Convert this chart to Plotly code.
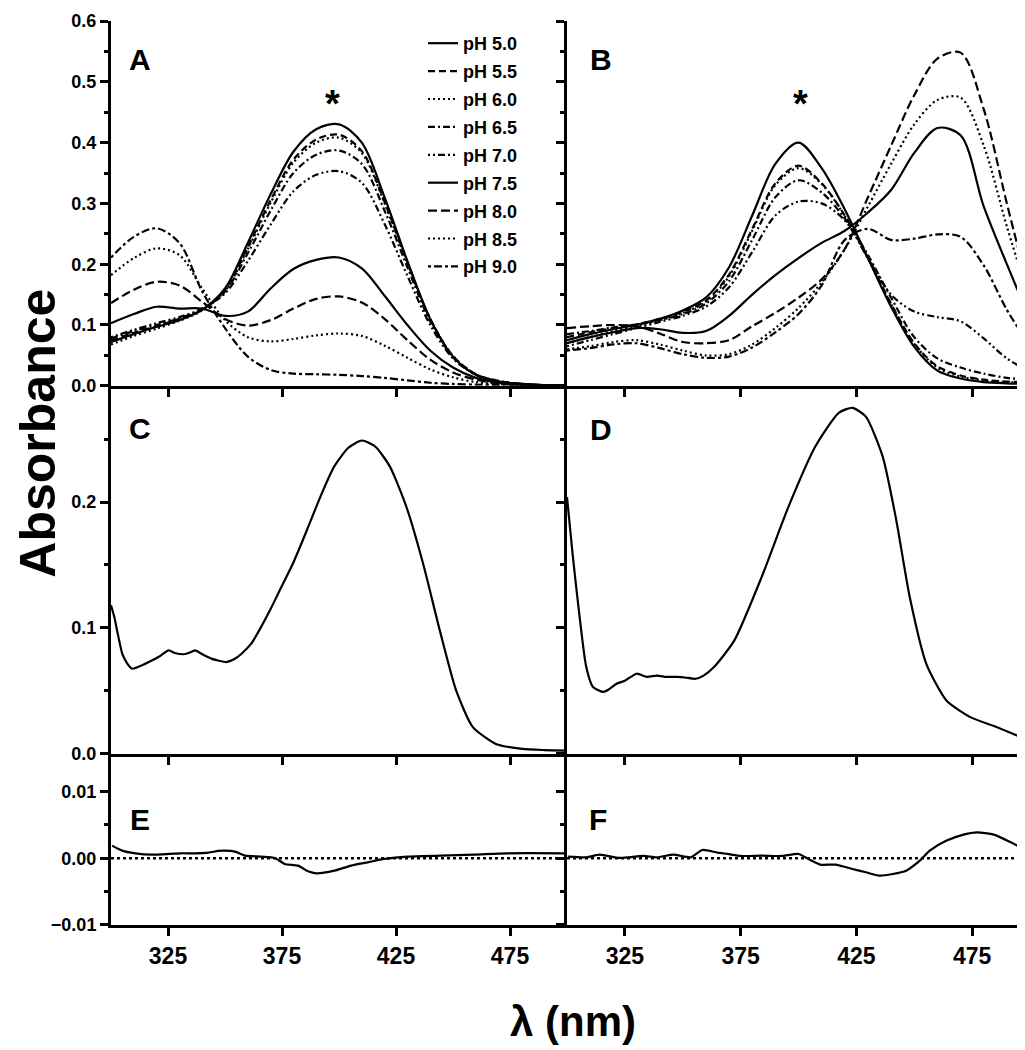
import plotly.graph_objects as go

# ---------------- data ----------------
LAMBDA = [300, 310, 320, 330, 340, 350, 360, 370, 380, 390, 400,
          410, 420, 430, 440, 450, 460, 470, 480, 490, 500]

PH_LABELS = ["pH 5.0", "pH 5.5", "pH 6.0", "pH 6.5", "pH 7.0",
             "pH 7.5", "pH 8.0", "pH 8.5", "pH 9.0"]

# Panel A spectra
A_pH50 = [0.072, 0.085, 0.097, 0.108, 0.125, 0.160, 0.235, 0.315, 0.385, 0.422, 0.430, 0.400, 0.310, 0.205, 0.110, 0.048, 0.018, 0.007, 0.003, 0.001, 0.000]
A_pH55 = [0.075, 0.087, 0.098, 0.110, 0.125, 0.158, 0.228, 0.305, 0.372, 0.405, 0.413, 0.386, 0.302, 0.203, 0.110, 0.049, 0.019, 0.008, 0.003, 0.001, 0.000]
A_pH60 = [0.068, 0.082, 0.094, 0.107, 0.124, 0.156, 0.225, 0.301, 0.367, 0.400, 0.408, 0.383, 0.300, 0.202, 0.110, 0.049, 0.019, 0.008, 0.003, 0.001, 0.000]
A_pH65 = [0.078, 0.090, 0.100, 0.111, 0.126, 0.155, 0.218, 0.288, 0.350, 0.380, 0.387, 0.365, 0.288, 0.195, 0.106, 0.047, 0.018, 0.007, 0.003, 0.001, 0.000]
A_pH70 = [0.080, 0.092, 0.103, 0.113, 0.127, 0.152, 0.205, 0.265, 0.320, 0.347, 0.353, 0.334, 0.266, 0.181, 0.100, 0.045, 0.018, 0.007, 0.003, 0.001, 0.000]
A_pH75 = [0.103, 0.118, 0.130, 0.127, 0.127, 0.115, 0.122, 0.160, 0.192, 0.207, 0.211, 0.193, 0.148, 0.100, 0.058, 0.030, 0.013, 0.005, 0.002, 0.001, 0.000]
A_pH80 = [0.136, 0.158, 0.171, 0.165, 0.138, 0.110, 0.099, 0.108, 0.127, 0.143, 0.147, 0.137, 0.110, 0.075, 0.043, 0.022, 0.010, 0.004, 0.002, 0.001, 0.000]
A_pH85 = [0.182, 0.210, 0.226, 0.215, 0.160, 0.108, 0.080, 0.073, 0.077, 0.083, 0.086, 0.082, 0.066, 0.046, 0.027, 0.014, 0.006, 0.003, 0.001, 0.000, 0.000]
A_pH90 = [0.211, 0.245, 0.259, 0.235, 0.155, 0.095, 0.048, 0.026, 0.020, 0.019, 0.018, 0.016, 0.013, 0.009, 0.005, 0.003, 0.002, 0.001, 0.001, 0.000, 0.000]

# Panel B spectra
B_pH50 = [0.075, 0.085, 0.093, 0.100, 0.110, 0.124, 0.145, 0.195, 0.280, 0.365, 0.400, 0.358, 0.290, 0.210, 0.130, 0.064, 0.025, 0.012, 0.006, 0.004, 0.003]
B_pH55 = [0.080, 0.088, 0.095, 0.101, 0.110, 0.122, 0.140, 0.183, 0.258, 0.333, 0.362, 0.333, 0.280, 0.210, 0.135, 0.070, 0.032, 0.017, 0.010, 0.007, 0.006]
B_pH60 = [0.070, 0.080, 0.090, 0.098, 0.108, 0.120, 0.138, 0.180, 0.255, 0.330, 0.358, 0.332, 0.279, 0.209, 0.134, 0.069, 0.030, 0.015, 0.009, 0.006, 0.005]
B_pH65 = [0.085, 0.090, 0.096, 0.101, 0.108, 0.118, 0.135, 0.172, 0.240, 0.310, 0.338, 0.318, 0.275, 0.215, 0.145, 0.080, 0.045, 0.030, 0.020, 0.013, 0.010]
B_pH70 = [0.065, 0.075, 0.085, 0.095, 0.105, 0.115, 0.130, 0.162, 0.220, 0.280, 0.303, 0.300, 0.272, 0.210, 0.150, 0.122, 0.113, 0.106, 0.078, 0.045, 0.023]
B_pH75 = [0.070, 0.080, 0.088, 0.095, 0.093, 0.087, 0.090, 0.115, 0.150, 0.182, 0.210, 0.235, 0.255, 0.285, 0.322, 0.383, 0.424, 0.412, 0.295, 0.200, 0.108]
B_pH80 = [0.095, 0.098, 0.100, 0.098, 0.086, 0.072, 0.070, 0.075, 0.098, 0.120, 0.145, 0.175, 0.225, 0.310, 0.395, 0.478, 0.538, 0.548, 0.455, 0.300, 0.150]
B_pH85 = [0.060, 0.065, 0.072, 0.075, 0.068, 0.058, 0.050, 0.052, 0.068, 0.095, 0.128, 0.170, 0.225, 0.295, 0.365, 0.430, 0.470, 0.474, 0.395, 0.262, 0.140]
B_pH90 = [0.058, 0.062, 0.068, 0.070, 0.062, 0.052, 0.046, 0.048, 0.063, 0.088, 0.118, 0.165, 0.240, 0.258, 0.240, 0.242, 0.249, 0.245, 0.198, 0.125, 0.065]

# Panel C spectrum
C_LAMBDA = [300, 301.4, 303, 305, 307, 309.3, 312, 316.6, 321, 325.3, 328, 331.8, 334, 336.9, 340, 344, 347, 350.6,
            354, 357, 361.5, 365, 370, 374.6, 380, 386, 392, 397.8, 404, 410, 416, 422.4, 429.6, 436.9, 444.2,
            451.4, 458.7, 468.8, 480.4, 490, 500]
C_ABS = [0.118, 0.109, 0.095, 0.079, 0.072, 0.0675, 0.069, 0.0728, 0.077, 0.082, 0.080, 0.079, 0.080, 0.082, 0.079,
         0.0755, 0.074, 0.0728, 0.075, 0.079, 0.0874, 0.098, 0.115, 0.132, 0.152, 0.178, 0.205, 0.228, 0.243, 0.249,
         0.244, 0.228, 0.196, 0.151, 0.098, 0.050, 0.021, 0.0077, 0.0037, 0.0028, 0.0024]

# Panel D spectrum
D_LAMBDA = [300, 302.4, 305.3, 308.3, 311.2, 315.5, 318, 321.4, 325, 330.1, 334.5, 338.8, 343, 347.6, 351, 355.6,
            359, 363.6, 372.3, 384, 395.6, 407.2, 417.4, 423.3, 429.1, 436.4, 442.2, 448, 455.3, 464, 474.2, 485.8, 500]
D_ABS = [0.204, 0.159, 0.111, 0.069, 0.053, 0.049, 0.051, 0.0555, 0.058, 0.0635, 0.061, 0.062, 0.061, 0.061, 0.0605,
         0.0595, 0.062, 0.069, 0.090, 0.140, 0.196, 0.244, 0.271, 0.275, 0.268, 0.236, 0.186, 0.125, 0.071, 0.042,
         0.029, 0.021, 0.010]

# Panel E residuals
E_LAMBDA = [300.5, 304.9, 310.7, 318, 325.3, 330.4, 337, 342.8, 347, 350, 354.4, 358.8, 366, 371.9, 376.2, 382,
            386.4, 390, 398, 405.3, 412.6, 419.9, 430.1, 444.7, 459.2, 473.8, 500]
E_ABS = [0.0019, 0.00115, 0.00075, 0.00055, 0.00065, 0.00075, 0.00075, 0.00085, 0.0011, 0.00115, 0.001, 0.0004,
         0.00025, 0.00005, -0.00085, -0.0011, -0.00195, -0.00225, -0.00185, -0.0011, -0.0006, -0.0001, 0.00025,
         0.0004, 0.00055, 0.00075, 0.00075]

# Panel F residuals
F_LAMBDA = [300.5, 308.3, 314.1, 322.8, 333, 338.8, 346.1, 353.4, 358.5, 365, 369.4, 375.2, 384, 392.7, 400, 404.3,
            409.4, 416, 423.3, 429.1, 434.9, 440.7, 446.5, 452.4, 456.7, 464, 471.3, 477.1, 484.4, 491.7, 500]
F_ABS = [0.00025, 0.00015, 0.00055, 0.00005, 0.00035, 0.00015, 0.00055, 0.00015, 0.00125, 0.00085, 0.00065, 0.00035,
         0.0004, 0.00035, 0.00065, -0.0001, -0.00095, -0.00095, -0.0016, -0.0021, -0.0026, -0.00235, -0.00185,
         -0.00035, 0.00115, 0.00265, 0.00355, 0.0039, 0.00355, 0.0024, 0.0009]

ZERO_LAMBDA = [300, 500]
ZERO_ABS = [0, 0]

X_TICKS = [325, 375, 425, 475]
YA_TICKS = [0.0, 0.1, 0.2, 0.3, 0.4, 0.5, 0.6]
YA_MINOR = [0.05, 0.15, 0.25, 0.35, 0.45, 0.55]
YC_TICKS = [0.0, 0.1, 0.2]
YC_MINOR = [0.05, 0.15, 0.25]
YE_TICKS = [-0.01, 0.0, 0.01]
YE_MINOR = [-0.005, 0.005]

# ---------------- styling ----------------
FONT = "Liberation Sans, Arial, sans-serif"
NARROW = "Liberation Sans Narrow, Liberation Sans, Arial, sans-serif"
DASHES = ["solid", "7px,4px", "2px,3px", "7px,3px,2px,3px", "2px,3px,2px,3px,7px,3px",
          "solid", "9px,4px", "2px,3px", "3px,3px,8px,3px"]
LW = 2.2

# plot area in pixels: x 103..1022, y 10..917
XS = 456 / 919
Y1 = (917 - 376) / 907
Y2 = (917 - 745) / 907


def px_x(px):
    return (px - 103) / 919


def px_y(py):
    return (917 - py) / 907


fig = go.Figure()

A_SERIES = [A_pH50, A_pH55, A_pH60, A_pH65, A_pH70, A_pH75, A_pH80, A_pH85, A_pH90]
B_SERIES = [B_pH50, B_pH55, B_pH60, B_pH65, B_pH70, B_pH75, B_pH80, B_pH85, B_pH90]

for name, dash, ya in zip(PH_LABELS, DASHES, A_SERIES):
    fig.add_trace(go.Scatter(x=LAMBDA, y=ya, mode="lines", name=name, legendgroup=name,
                             line=dict(color="black", width=LW, dash=dash, shape="spline", smoothing=0.9),
                             xaxis="x", yaxis="y", showlegend=True))
for name, dash, yb in zip(PH_LABELS, DASHES, B_SERIES):
    fig.add_trace(go.Scatter(x=LAMBDA, y=yb, mode="lines", name=name, legendgroup=name,
                             line=dict(color="black", width=LW, dash=dash, shape="spline", smoothing=0.9),
                             xaxis="x2", yaxis="y2", showlegend=False))

fig.add_trace(go.Scatter(x=C_LAMBDA, y=C_ABS, mode="lines", showlegend=False,
                         line=dict(color="black", width=LW, shape="spline", smoothing=0.6), xaxis="x3", yaxis="y3"))
fig.add_trace(go.Scatter(x=D_LAMBDA, y=D_ABS, mode="lines", showlegend=False,
                         line=dict(color="black", width=LW, shape="spline", smoothing=0.6), xaxis="x4", yaxis="y4"))
for xa, ya in (("x5", "y5"), ("x6", "y6")):
    fig.add_trace(go.Scatter(x=ZERO_LAMBDA, y=ZERO_ABS, mode="lines", showlegend=False,
                             line=dict(color="black", width=2.5, dash="3px,3px"), xaxis=xa, yaxis=ya))
fig.add_trace(go.Scatter(x=E_LAMBDA, y=E_ABS, mode="lines", showlegend=False,
                         line=dict(color="black", width=LW, shape="spline", smoothing=0.6), xaxis="x5", yaxis="y5"))
fig.add_trace(go.Scatter(x=F_LAMBDA, y=F_ABS, mode="lines", showlegend=False,
                         line=dict(color="black", width=LW, shape="spline", smoothing=0.6), xaxis="x6", yaxis="y6"))


def xax(domain, anchor, labels):
    return dict(domain=domain, anchor=anchor, range=[300, 500], tickvals=X_TICKS,
                showline=True, linewidth=3, linecolor="black", mirror=False,
                ticks="outside", ticklen=8, tickwidth=3, tickcolor="black",
                showticklabels=labels, showgrid=False, zeroline=False,
                tickfont=dict(family=NARROW, size=23, color="black", weight="bold"))


def yax(domain, anchor, rng, tickvals, minor, fmt, labels):
    return dict(domain=domain, anchor=anchor, range=rng, tickvals=tickvals, tickformat=fmt,
                showline=True, linewidth=3, linecolor="black", mirror=False,
                ticks="outside", ticklen=8, tickwidth=3, tickcolor="black",
                minor=dict(tickvals=minor, ticks="outside", ticklen=4, tickwidth=3, tickcolor="black", showgrid=False),
                showticklabels=labels, showgrid=False, zeroline=False,
                tickfont=dict(family=FONT, size=18, color="black", weight="bold"))


annotations = []
for letter, px, py in (("A", 132, 49), ("B", 593, 49), ("C", 132, 419),
                       ("D", 593, 420), ("E", 132, 811), ("F", 590, 811)):
    annotations.append(dict(text=letter, x=px_x(px), y=px_y(py), xref="paper", yref="paper",
                            xanchor="center", yanchor="middle", showarrow=False,
                            font=dict(family=FONT, size=30, color="black", weight="bold")))
for px, py in ((324, 93), (792, 93)):
    annotations.append(dict(text="*", x=px_x(px), y=px_y(py), xref="paper", yref="paper",
                            xanchor="center", yanchor="middle", showarrow=False,
                            font=dict(family=FONT, size=38, color="black", weight="bold")))
annotations.append(dict(text="Absorbance", x=px_x(30), y=px_y(424), xref="paper", yref="paper",
                        xanchor="center", yanchor="middle", textangle=-90, showarrow=False,
                        font=dict(family=FONT, size=50, color="black", weight="bold")))
annotations.append(dict(text="λ (nm)", x=px_x(565), y=px_y(1014), xref="paper", yref="paper",
                        xanchor="center", yanchor="middle", showarrow=False,
                        font=dict(family=FONT, size=42, color="black", weight="bold")))

fig.update_layout(
    width=1025, height=1050,
    margin=dict(l=103, r=3, t=10, b=133),
    paper_bgcolor="white", plot_bgcolor="white",
    font=dict(family=FONT, color="black"),
    showlegend=True,
    legend=dict(x=px_x(415), y=px_y(14), xanchor="left", yanchor="top",
                bgcolor="rgba(0,0,0,0)", borderwidth=0, tracegroupgap=1.5,
                font=dict(family=FONT, size=18, color="black", weight="bold")),
    xaxis=xax([0, XS], "y", False),
    yaxis=yax([Y1, 1], "x", [0, 0.6], YA_TICKS, YA_MINOR, ".1f", True),
    xaxis2=xax([XS, 1], "y2", False),
    yaxis2=yax([Y1, 1], "x2", [0, 0.6], YA_TICKS, YA_MINOR, ".1f", False),
    xaxis3=xax([0, XS], "y3", False),
    yaxis3=yax([Y2, Y1], "x3", [0, 0.2925], YC_TICKS, YC_MINOR, ".1f", True),
    xaxis4=xax([XS, 1], "y4", False),
    yaxis4=yax([Y2, Y1], "x4", [0, 0.2925], YC_TICKS, YC_MINOR, ".1f", False),
    xaxis5=xax([0, XS], "y5", True),
    yaxis5=yax([0, Y2], "x5", [-0.01, 0.0157], YE_TICKS, YE_MINOR, ".2f", True),
    xaxis6=xax([XS, 1], "y6", True),
    yaxis6=yax([0, Y2], "x6", [-0.01, 0.0157], YE_TICKS, YE_MINOR, ".2f", False),
    annotations=annotations,
)

fig.write_html("out.html")
